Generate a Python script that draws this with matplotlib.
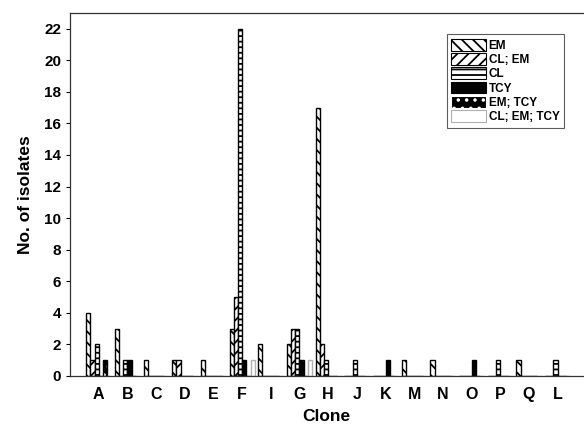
import numpy as np
import matplotlib
matplotlib.use("Agg")
import matplotlib.pyplot as plt
import matplotlib.patches as mpatches

plt.rcParams['font.family'] = ['Liberation Sans', 'DejaVu Sans']
plt.rcParams['font.weight'] = 'bold'
plt.rcParams['hatch.linewidth'] = 1.3

# clones in the order they appear on the x axis
clones = ['A', 'B', 'C', 'D', 'E', 'F', 'I', 'G', 'H', 'J', 'K', 'M', 'N', 'O', 'P', 'Q', 'L']

# number of isolates per resistance phenotype
em = [4, 3, 1, 1, 1, 3, 2, 2, 17, 0, 0, 1, 1, 0, 0, 1, 0]
cl_em = [1, 0, 0, 1, 0, 5, 0, 3, 2, 0, 0, 0, 0, 0, 0, 0, 0]
cl = [2, 1, 0, 0, 0, 22, 0, 3, 1, 1, 0, 0, 0, 0, 1, 0, 1]
tcy = [0, 1, 0, 0, 0, 1, 0, 1, 0, 0, 1, 0, 0, 1, 0, 0, 0]
em_tcy = [1, 0, 0, 0, 0, 0, 0, 0, 0, 0, 0, 0, 0, 0, 0, 0, 0]
cl_em_tcy = [0, 0, 0, 0, 0, 1, 0, 1, 0, 0, 0, 0, 0, 0, 0, 0, 0]

series = [
    ('EM', em, dict(facecolor='white', edgecolor='black', hatch='\\\\\\')),
    ('CL; EM', cl_em, dict(facecolor='white', edgecolor='black', hatch='///')),
    ('CL', cl, dict(facecolor='white', edgecolor='black', hatch='---')),
    ('TCY', tcy, dict(facecolor='black', edgecolor='black', hatch=None)),
    ('EM; TCY', em_tcy, dict(facecolor='black', edgecolor='white', hatch='..')),
    ('CL; EM; TCY', cl_em_tcy, dict(facecolor='white', edgecolor='#b0b0b0', hatch=None)),
]

fig = plt.figure(figsize=(5.84, 4.33), dpi=100)
ax = fig.add_axes([0.120, 0.132, 0.878, 0.838])

x = np.arange(len(clones))
width = 0.146
handles = []
for i, (name, vals, st) in enumerate(series):
    pos = x + (i - 2.5) * width
    ax.bar(pos, vals, width, facecolor=st['facecolor'], edgecolor=st['edgecolor'],
           hatch=st['hatch'], linewidth=1.0 if st['hatch'] != '..' else 0)
    if name == 'EM; TCY':
        # outline on top of the white dots
        ax.bar(pos, vals, width, fill=False, edgecolor='black', linewidth=1.0)
    handles.append(mpatches.Patch(facecolor=st['facecolor'], edgecolor=st['edgecolor'],
                                  hatch=st['hatch'], linewidth=0.8, label=name))

ax.set_xlim(-1.0, 16.88)
ax.set_ylim(0, 23)
ax.set_yticks(np.arange(0, 23, 2))
ax.set_xticks(x)
ax.set_xticklabels(clones, fontsize=11.5, fontweight='bold')
ax.tick_params(axis='x', length=0, pad=8)
ax.tick_params(axis='y', direction='out', length=3, labelsize=11, width=0.8)
for lab in ax.get_yticklabels():
    lab.set_fontweight('bold')
ax.spines['right'].set_visible(False)
for sp in ax.spines.values():
    sp.set_color('#333333')
    sp.set_linewidth(0.9)

ax.set_xlabel('Clone', fontsize=12.5, fontweight='bold', labelpad=5)
ax.set_ylabel('No. of isolates', fontsize=12.5, fontweight='bold', labelpad=8)

leg = ax.legend(handles=handles, loc='upper right', bbox_to_anchor=(0.975, 0.958),
                fontsize=8.5, frameon=True, fancybox=False, edgecolor='#333333',
                handlelength=2.9, handleheight=1.15, handletextpad=0.25,
                labelspacing=0.12, borderpad=0.4)
leg.get_frame().set_linewidth(0.8)
for t in leg.get_texts():
    t.set_fontweight('bold')

fig.savefig('out.png', dpi=100)
